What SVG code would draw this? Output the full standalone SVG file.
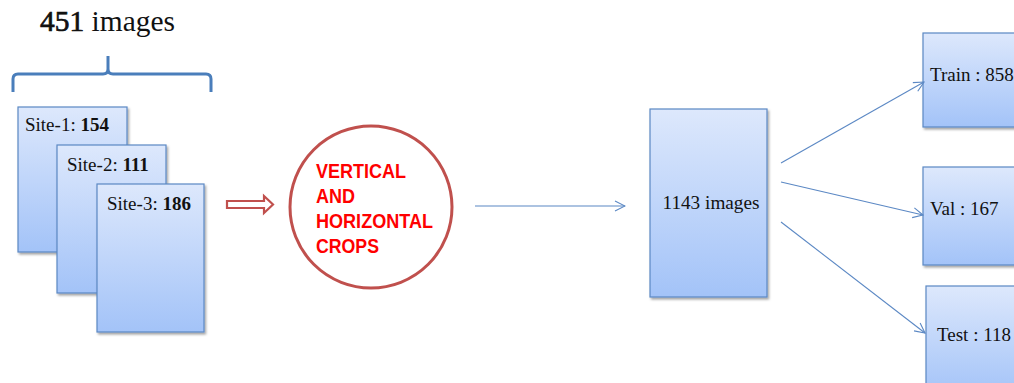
<svg xmlns="http://www.w3.org/2000/svg" width="1014" height="383" viewBox="0 0 1014 383">
  <defs>
    <linearGradient id="boxFill" x1="0" y1="0" x2="0" y2="1">
      <stop offset="0" stop-color="#dde8fc"/>
      <stop offset="1" stop-color="#a3c3f8"/>
    </linearGradient>
    <filter id="shadow" x="-10%" y="-10%" width="130%" height="130%">
      <feDropShadow dx="1.5" dy="2" stdDeviation="1.2" flood-color="#000" flood-opacity="0.35"/>
    </filter>
    <marker id="openArrow" viewBox="0 0 12 12" refX="11" refY="6" markerWidth="12" markerHeight="12" markerUnits="userSpaceOnUse" orient="auto">
      <path d="M1,1 L11,6 L1,11" fill="none" stroke="#5b88c4" stroke-width="1.1"/>
    </marker>
  </defs>
  <style>
    .box { fill: url(#boxFill); stroke: #5b88c4; stroke-width: 1.2; filter: url(#shadow); }
    .lbl { font-family: "Liberation Serif", "Times New Roman", serif; font-size: 19px; fill: #111; }
    .num { font-weight: bold; }
    .conn { fill: none; stroke: #5b88c4; stroke-width: 1.1; marker-end: url(#openArrow); }
    .crop { font-family: "Liberation Sans", Arial, sans-serif; font-size: 20px; font-weight: bold; fill: #ff0000; }
  </style>

  <rect width="1014" height="383" fill="#ffffff"/>

  <!-- total count and brace over the three site stacks -->
  <g id="total">
    <text x="40" y="31" font-family="Liberation Serif, serif" font-size="30" fill="#111" textLength="135" lengthAdjust="spacingAndGlyphs"><tspan stroke="#111" stroke-width="0.7">451</tspan> images</text>
    <path d="M13,92 L13,79 Q13,74 18,74 L103,74 Q108,74 108,69 L108,56 L108,69 Q108,74 113,74 L206,74 Q211,74 211,79 L211,92" fill="none" stroke="#4a7ebb" stroke-width="3"/>
  </g>

  <g id="site1">
    <rect class="box" x="18" y="107" width="109" height="145"/>
    <text class="lbl" x="25" y="131">Site-1: <tspan class="num">154</tspan></text>
  </g>
  <g id="site2">
    <rect class="box" x="57" y="145" width="109" height="148"/>
    <text class="lbl" x="67" y="171">Site-2: <tspan class="num">111</tspan></text>
  </g>
  <g id="site3">
    <rect class="box" x="97" y="184" width="107" height="148"/>
    <text class="lbl" x="107" y="210">Site-3: <tspan class="num">186</tspan></text>
  </g>

  <g id="crops">
    <circle cx="371" cy="207" r="81" fill="#ffffff" stroke="#c0504d" stroke-width="3"/>
    <text class="crop" x="316" y="178" textLength="90" lengthAdjust="spacingAndGlyphs">VERTICAL</text>
    <text class="crop" x="316" y="203" textLength="39" lengthAdjust="spacingAndGlyphs">AND</text>
    <text class="crop" x="316" y="228" textLength="117" lengthAdjust="spacingAndGlyphs">HORIZONTAL</text>
    <text class="crop" x="316" y="253" textLength="63" lengthAdjust="spacingAndGlyphs">CROPS</text>
  </g>

  <g id="merged">
    <rect class="box" x="650" y="109" width="117" height="188"/>
    <text class="lbl" x="711" y="209" font-size="20" text-anchor="middle" textLength="97" lengthAdjust="spacingAndGlyphs">1143 images</text>
  </g>

  <g id="train">
    <rect class="box" x="923" y="33" width="100" height="94"/>
    <text class="lbl" x="930" y="81" font-size="20">Train : 858</text>
  </g>
  <g id="val">
    <rect class="box" x="923" y="167" width="100" height="98"/>
    <text class="lbl" x="930" y="215" font-size="20">Val : 167</text>
  </g>
  <g id="test">
    <rect class="box" x="926" y="286" width="100" height="110"/>
    <text class="lbl" x="937" y="341" font-size="20">Test : 118</text>
  </g>

  <g id="connectors">
    <!-- hollow block arrow into the crop step -->
    <path d="M227,201 L264,201 L264,196 L273,204.5 L264,213 L264,208 L227,208 Z" fill="#ffffff" stroke="#c0504d" stroke-width="2.2" stroke-linejoin="miter"/>
    <line class="conn" x1="475" y1="206" x2="625" y2="206"/>
    <line class="conn" x1="781" y1="163" x2="924" y2="82"/>
    <line class="conn" x1="781" y1="182" x2="923" y2="215"/>
    <line class="conn" x1="781" y1="222" x2="925" y2="333"/>
  </g>
</svg>
